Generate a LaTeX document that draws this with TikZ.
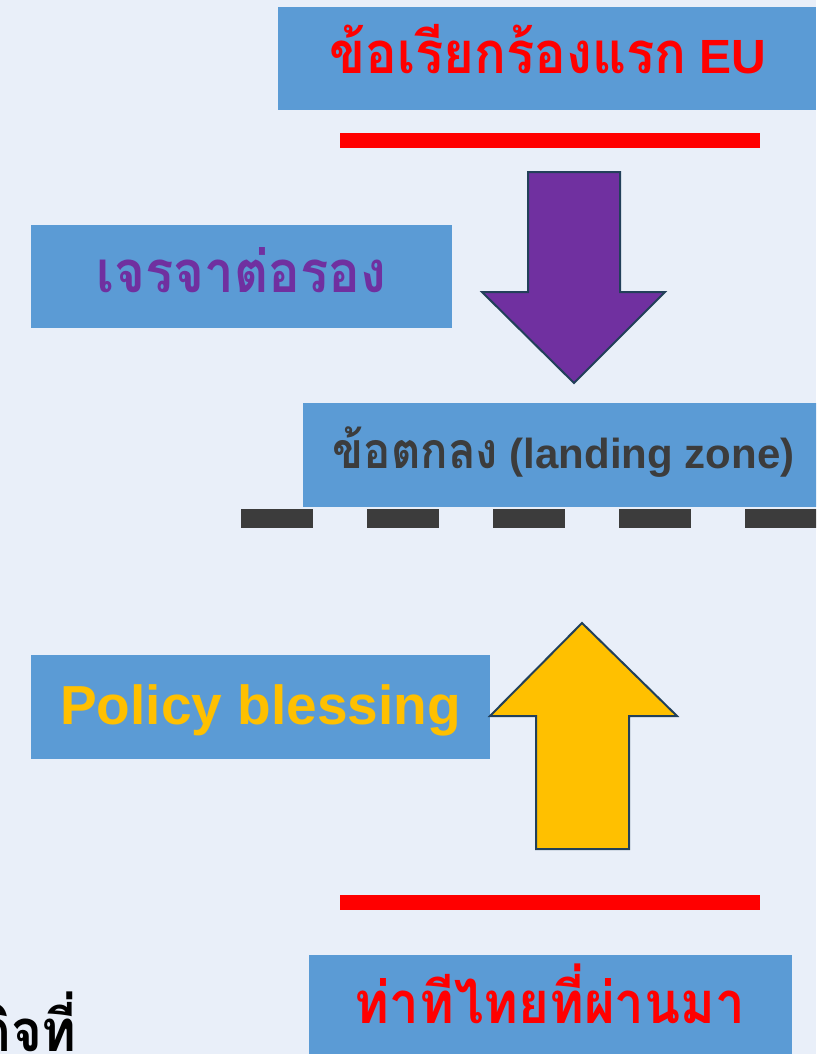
\documentclass[tikz,border=0pt]{standalone}
\usepackage{fontspec}
\setmainfont{Liberation Sans}
\newfontfamily\thaifont[Script=Thai,FakeStretch=0.91]{Loma}
\definecolor{bgc}{HTML}{E9EFF9}
\definecolor{boxc}{HTML}{5B9BD5}
\definecolor{redc}{HTML}{FF0000}
\definecolor{purc}{HTML}{7030A0}
\definecolor{yelc}{HTML}{FFC000}
\definecolor{grayc}{HTML}{3C3C3C}
\definecolor{edgec}{HTML}{22405A}
\begin{document}
\begin{tikzpicture}[x=1pt,y=-1pt,
  bluebox/.style={fill=boxc,inner sep=0pt,outer sep=0pt},
  lbl/.style={anchor=base,inner sep=0pt,font=\bfseries},
  redbar/.style={draw=redc,line width=15pt},
  blockarrow/.style={draw=edgec,line width=2pt,line join=miter}]
\useasboundingbox (0,0) rectangle (816,1054);
\clip (0,0) rectangle (816,1054);
\fill[bgc] (0,0) rectangle (816,1054);
% boxes
\node[bluebox,minimum width=538pt,minimum height=103pt] (eubox) at (547,58.5) {};
\node[bluebox,minimum width=421pt,minimum height=103pt] (negbox) at (241.5,276.5) {};
\node[bluebox,minimum width=521pt,minimum height=104pt] (landbox) at (563.5,455) {};
\node[bluebox,minimum width=459pt,minimum height=104pt] (polbox) at (260.5,707) {};
\node[bluebox,minimum width=483pt,minimum height=103pt] (thbox) at (550.5,1006.5) {};
% labels
\node[lbl,text=redc] (eutext) at (548,74) {\fontsize{48}{50}\selectfont{\thaifont\fontsize{58}{60}\selectfont ข้อเรียกร้องแรก} EU};
\node[lbl,text=purc] (negtext) at (241.5,292) {\fontsize{58}{60}\selectfont\thaifont เจรจาต่อรอง};
\node[lbl,text=grayc] (landtext) at (563.5,468) {\fontsize{42}{44}\selectfont{\thaifont\fontsize{50}{52}\selectfont ข้อตกลง} (landing zone)};
\node[lbl,text=yelc] (poltext) at (260.5,724) {\fontsize{55}{58}\selectfont Policy blessing};
\node[lbl,text=redc] (thtext) at (550,1023) {\fontsize{58}{60}\selectfont\thaifont ท่าทีไทยที่ผ่านมา};
\node[anchor=base east,inner sep=0pt,font=\bfseries,text=black] (cuttext) at (77,1051) {\fontsize{58}{60}\selectfont\thaifont กิจที่};
% red bars
\coordinate (r1a) at (340,140.5); \coordinate (r1b) at (760,140.5);
\coordinate (r2a) at (340,902.5); \coordinate (r2b) at (760,902.5);
\draw[redbar] (r1a) -- (r1b);
\draw[redbar] (r2a) -- (r2b);
% dashed line
\coordinate (da) at (241,518.5); \coordinate (db) at (840,518.5);
\draw[grayc,line width=19pt,dash pattern=on 72pt off 54pt] (da) -- (db);
% arrows
\draw[blockarrow,fill=purc] (528,172) -- (620,172) -- (620,292) -- (665,292) -- (574,383) -- (482,292) -- (528,292) -- cycle;
\draw[blockarrow,fill=yelc] (582,623) -- (677,716) -- (629,716) -- (629,849) -- (536,849) -- (536,716) -- (490,716) -- cycle;
\end{tikzpicture}
\end{document}
